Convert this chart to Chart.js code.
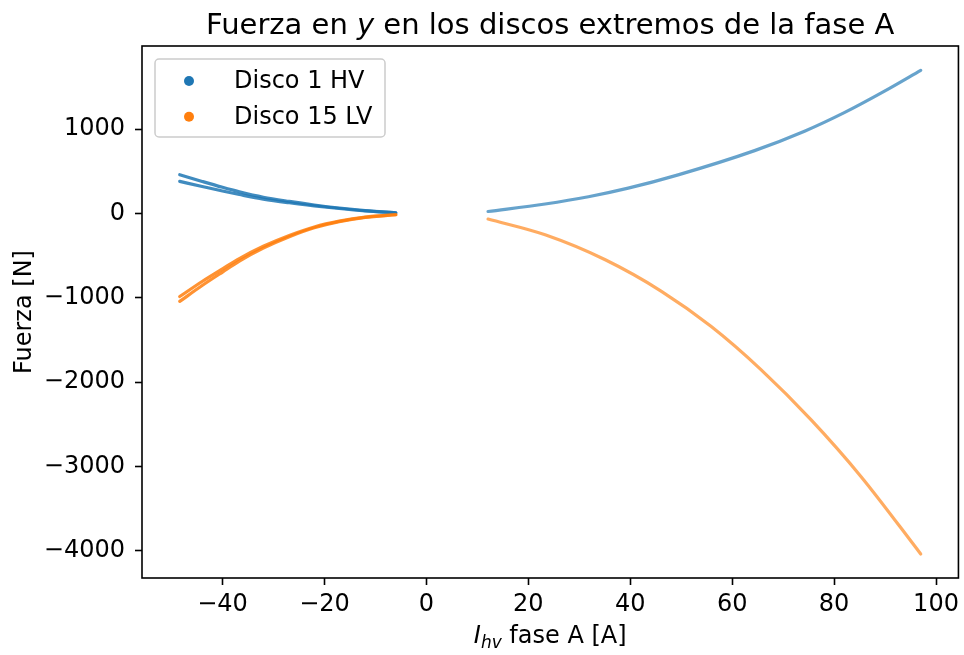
<!DOCTYPE html>
<html>
<head>
<meta charset="utf-8">
<script src="https://cdn.jsdelivr.net/npm/chart.js@4"></script>
<style>
  html, body { margin: 0; padding: 0; background: #ffffff; }
  #wrap { width: 964px; height: 655px; position: relative; }
</style>
</head>
<body>
<div id="wrap"><canvas id="c"></canvas></div>
<script>
// Series names and colours
const seriesNames = ['Disco 1 HV', 'Disco 15 LV'];
const seriesColors = ['31,119,180', '255,127,14'];

// Axis ticks
const xTicks = [-40, -20, 0, 20, 40, 60, 80, 100];
const yTicks = [-4000, -3000, -2000, -1000, 0, 1000];

// Negative current sweep, two passes per disc [A] -> [N]
const negI       = [-48.4, -44, -40, -36.7, -32, -26.9, -22, -17.1, -12, -6.0];
const hvNegPass1 = [460, 380, 310, 257, 193, 143, 101, 65, 35, 8];
const hvNegPass2 = [380, 320, 266, 225, 171, 127, 91, 59, 31, 8];
const lvNegPass1 = [-984, -806, -656, -535, -389, -260, -160, -91, -43, -15];
const lvNegPass2 = [-1042, -854, -694, -565, -411, -276, -170, -97, -47, -15];

// Positive current sweep [A] -> [N]
const hvPosI = [12.1, 23.3, 31.8, 39.6, 49.4, 64.4, 74.2, 82.0, 89.9, 97.0];
const hvPos  = [24, 112, 198, 300, 458, 745, 975, 1195, 1450, 1696];
const lvPosI = [12.1, 23.3, 35.1, 46.2, 55.9, 65.7, 75.5, 85.3, 97.0];
const lvPos  = [-66, -253, -549, -925, -1340, -1853, -2446, -3119, -4035];

const FONT = "'DejaVu Sans', 'Liberation Sans', sans-serif";
const TXT = 24;      // tick, axis label and legend size
const TITLE = 29;    // title size

function pts(xs, ys) { return xs.map((x, i) => ({ x: x, y: ys[i] })); }
function fmt(v) { return v < 0 ? '\u2212' + Math.abs(v) : String(v); }

function trace(series, xs, ys, alpha, order) {
  return {
    label: seriesNames[series],
    series: series,
    data: pts(xs, ys),
    showLine: true,
    borderColor: 'rgba(' + seriesColors[series] + ',' + alpha + ')',
    backgroundColor: 'rgba(' + seriesColors[series] + ',' + alpha + ')',
    borderWidth: 3.2,
    pointRadius: 0,
    pointHoverRadius: 0,
    cubicInterpolationMode: 'monotone',
    borderCapStyle: 'round',
    order: order
  };
}

const datasets = [
  trace(0, negI, hvNegPass1, 0.85, 1),
  trace(0, negI, hvNegPass2, 0.85, 1),
  trace(0, hvPosI, hvPos, 0.68, 1),
  trace(1, negI, lvNegPass1, 0.85, 0),
  trace(1, negI, lvNegPass2, 0.85, 0),
  trace(1, lvPosI, lvPos, 0.65, 0)
];

// Frame, title, axis labels and legend box
const decorations = {
  id: 'decorations',
  afterDraw(chart) {
    const ctx = chart.ctx;
    const a = chart.chartArea;
    ctx.save();

    // axes frame
    ctx.strokeStyle = '#000';
    ctx.lineWidth = 1.6;
    ctx.strokeRect(a.left, a.top, a.right - a.left, a.bottom - a.top);

    const cx = (a.left + a.right) / 2;
    ctx.fillStyle = '#000';
    ctx.textBaseline = 'alphabetic';
    ctx.textAlign = 'left';

    // title with italic y
    const tParts = [
      ['Fuerza en ', 'normal ' + TITLE + 'px ' + FONT],
      ['y', 'italic ' + TITLE + 'px ' + FONT],
      [' en los discos extremos de la fase A', 'normal ' + TITLE + 'px ' + FONT]
    ];
    let tw = 0;
    tParts.forEach(p => { ctx.font = p[1]; tw += ctx.measureText(p[0]).width; });
    let tx = cx - tw / 2;
    tParts.forEach(p => { ctx.font = p[1]; ctx.fillText(p[0], tx, 34); tx += ctx.measureText(p[0]).width; });

    // x axis label: I_hv fase A [A]
    const xParts = [
      ['I', 'italic ' + TXT + 'px ' + FONT, 0],
      ['hv', 'italic 17px ' + FONT, 5],
      [' fase A [A]', 'normal ' + TXT + 'px ' + FONT, 0]
    ];
    let xw = 0;
    xParts.forEach(p => { ctx.font = p[1]; xw += ctx.measureText(p[0]).width; });
    let xx = cx - xw / 2;
    xParts.forEach(p => { ctx.font = p[1]; ctx.fillText(p[0], xx, 643 + p[2]); xx += ctx.measureText(p[0]).width; });

    // y axis label
    ctx.save();
    ctx.translate(31, (a.top + a.bottom) / 2);
    ctx.rotate(-Math.PI / 2);
    ctx.font = 'normal ' + TXT + 'px ' + FONT;
    ctx.textAlign = 'center';
    ctx.fillText('Fuerza [N]', 0, 0);
    ctx.restore();

    // legend
    const bx = 155, by = 59, bw = 230, bh = 78, r = 4;
    ctx.beginPath();
    ctx.moveTo(bx + r, by);
    ctx.arcTo(bx + bw, by, bx + bw, by + bh, r);
    ctx.arcTo(bx + bw, by + bh, bx, by + bh, r);
    ctx.arcTo(bx, by + bh, bx, by, r);
    ctx.arcTo(bx, by, bx + bw, by, r);
    ctx.closePath();
    ctx.fillStyle = 'rgba(255,255,255,0.8)';
    ctx.fill();
    ctx.strokeStyle = '#cccccc';
    ctx.lineWidth = 1.5;
    ctx.stroke();

    ctx.font = 'normal ' + TXT + 'px ' + FONT;
    ctx.textAlign = 'left';
    ctx.textBaseline = 'middle';
    seriesNames.forEach((name, i) => {
      const ly = 81 + i * 35.7;
      ctx.beginPath();
      ctx.arc(189, ly, 5, 0, Math.PI * 2);
      ctx.fillStyle = 'rgb(' + seriesColors[i] + ')';
      ctx.fill();
      ctx.fillStyle = '#000';
      ctx.fillText(name, 234, ly + 1);
    });

    ctx.restore();
  }
};

const axisCommon = {
  type: 'linear',
  grid: {
    display: true,
    drawOnChartArea: false,
    drawTicks: true,
    tickLength: 7,
    tickWidth: 1.6,
    tickColor: '#000'
  },
  border: { display: false },
  ticks: {
    color: '#000',
    font: { family: FONT, size: TXT },
    callback: v => fmt(v)
  }
};

new Chart(document.getElementById('c'), {
  type: 'scatter',
  data: { datasets: datasets },
  options: {
    responsive: true,
    maintainAspectRatio: false,
    animation: false,
    events: [],
    layout: { padding: { top: 46, right: 3, left: 0, bottom: 0 } },
    plugins: {
      legend: { display: false },
      title: { display: false },
      tooltip: { enabled: false }
    },
    scales: {
      x: Object.assign({}, axisCommon, {
        position: 'bottom',
        min: -55.8,
        max: 104.4,
        ticks: Object.assign({}, axisCommon.ticks, { padding: 5, maxRotation: 0, autoSkip: false }),
        afterBuildTicks: s => { s.ticks = xTicks.map(v => ({ value: v })); },
        afterFit: s => { s.height = 77; }
      }),
      y: Object.assign({}, axisCommon, {
        position: 'left',
        min: -4320,
        max: 1985,
        ticks: Object.assign({}, axisCommon.ticks, { padding: 10, autoSkip: false }),
        afterBuildTicks: s => { s.ticks = yTicks.map(v => ({ value: v })); },
        afterFit: s => { s.width = 142; }
      })
    }
  },
  plugins: [decorations]
});
</script>
</body>
</html>
